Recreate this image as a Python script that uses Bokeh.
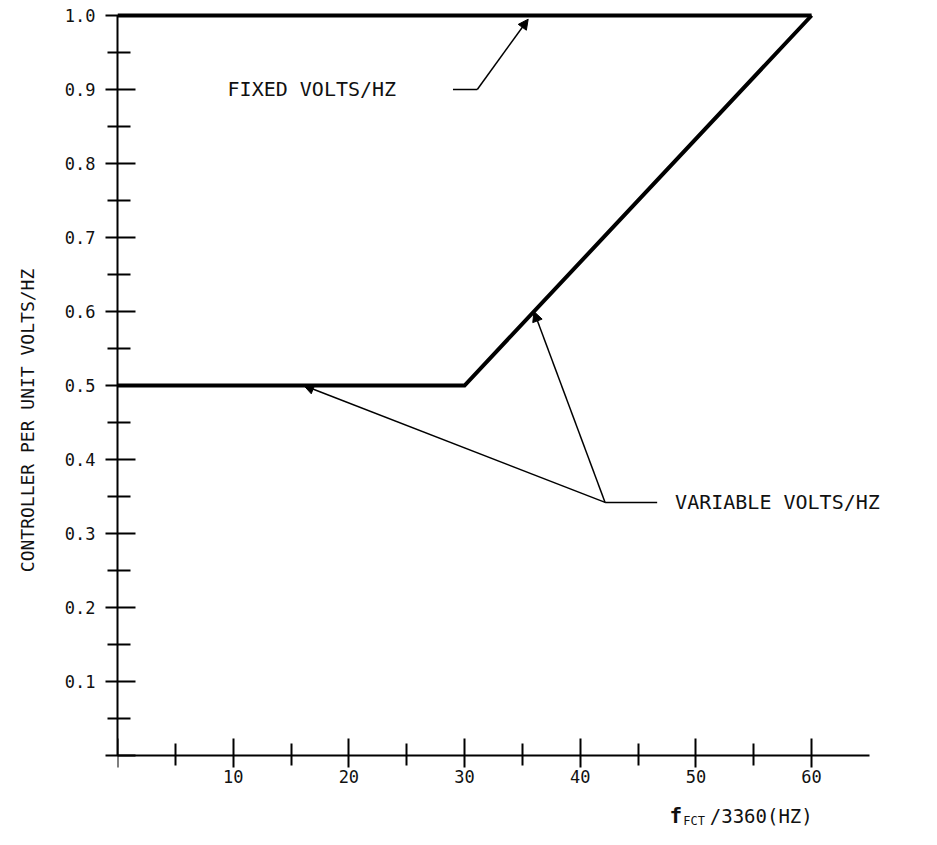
from bokeh.plotting import figure
from bokeh.models import Range1d, FixedTicker, PrintfTickFormatter, Label, Arrow, NormalHead
from bokeh.embed import file_html
from bokeh.resources import INLINE

# ---- data ----
fixed_x = [0, 60]
fixed_y = [1.0, 1.0]
variable_x = [0, 30, 60]
variable_y = [0.5, 0.5, 1.0]

x_major = [0, 10, 20, 30, 40, 50, 60]
x_minor = [5, 15, 25, 35, 45, 55]
y_major = [0.0, 0.1, 0.2, 0.3, 0.4, 0.5, 0.6, 0.7, 0.8, 0.9, 1.0]
y_minor = [0.05, 0.15, 0.25, 0.35, 0.45, 0.55, 0.65, 0.75, 0.85, 0.95]

y_title = "CONTROLLER PER UNIT VOLTS/HZ"
x_title_main = "f"
x_title_sub = "FCT"
x_title_rest = "/3360(HZ)"
fixed_label = "FIXED VOLTS/HZ"
variable_label = "VARIABLE VOLTS/HZ"

# annotation anchor points (data coordinates)
fixed_leader_x = [29.0, 31.1]
fixed_leader_y = [0.9, 0.9]
fixed_arrow_tip = (35.5, 0.995)
var_leader_x = [46.65, 42.15]
var_leader_y = [0.342, 0.342]
var_arrow_tips = [(16.1, 0.5), (36.0, 0.6)]

FONT = "DejaVu Sans Mono"
INK = "#111111"

p = figure(width=921, height=829,
           x_range=Range1d(0, 69.5), y_range=Range1d(-0.1, 1.0054),
           output_backend="svg", toolbar_location=None,
           min_border_left=117, min_border_right=0,
           min_border_top=11, min_border_bottom=0)
p.grid.visible = False
p.outline_line_color = None
p.background_fill_color = "white"
p.border_fill_color = "white"

# curves
p.line(fixed_x, fixed_y, line_width=4, color="black")
p.line(variable_x, variable_y, line_width=4, color="black", line_join="miter")

# x axis (drawn at y = 0)
xa = p.xaxis[0]
xa.fixed_location = 0
xa.bounds = (0, 65)
xa.ticker = FixedTicker(ticks=x_major, minor_ticks=x_minor)
xa.formatter = PrintfTickFormatter(format="%d")
xa.major_label_overrides = {0: ""}
xa.axis_line_width = 2
xa.major_tick_line_width = 2
xa.minor_tick_line_width = 2
xa.major_tick_in = 17
xa.major_tick_out = 12
xa.minor_tick_in = 12
xa.minor_tick_out = 10
xa.major_label_standoff = 3
xa.major_label_text_font = FONT
xa.major_label_text_font_size = "17px"
xa.major_label_text_color = INK

# y axis
ya = p.yaxis[0]
ya.bounds = (0, 1.0)
ya.ticker = FixedTicker(ticks=y_major, minor_ticks=y_minor)
ya.formatter = PrintfTickFormatter(format="%.1f")
ya.major_label_overrides = {0: ""}
ya.axis_line_width = 2
ya.major_tick_line_width = 2
ya.minor_tick_line_width = 2
ya.major_tick_in = 18
ya.major_tick_out = 12
ya.minor_tick_in = 13
ya.minor_tick_out = 10
ya.major_label_standoff = 10
ya.major_label_text_font = FONT
ya.major_label_text_font_size = "17px"
ya.major_label_text_color = INK
ya.axis_label = y_title
ya.axis_label_text_font = FONT
ya.axis_label_text_font_size = "18px"
ya.axis_label_text_font_style = "normal"
ya.axis_label_text_color = INK
ya.axis_label_standoff = 24

# x-axis title built from labels (subscript)
p.add_layout(Label(x=48.8, y=-0.0824, text=x_title_main, text_font=FONT, text_font_size="21px",
                   text_font_style="bold", text_baseline="middle", text_align="right",
                   text_color=INK))
p.add_layout(Label(x=48.9, y=-0.089, text=x_title_sub, text_font=FONT, text_font_size="12px",
                   text_baseline="middle", text_align="left", text_color=INK))
p.add_layout(Label(x=51.2, y=-0.0824, text=x_title_rest, text_font=FONT, text_font_size="19px",
                   text_baseline="middle", text_align="left", text_color=INK))

# annotation texts
p.add_layout(Label(x=16.8, y=0.9, text=fixed_label, text_font=FONT, text_font_size="20px",
                   text_baseline="middle", text_align="center", text_color=INK))
p.add_layout(Label(x=48.2, y=0.342, text=variable_label, text_font=FONT, text_font_size="20px",
                   text_baseline="middle", text_align="left", text_color=INK))

# leaders and arrows
p.line(fixed_leader_x, fixed_leader_y, line_width=1.5, color="black")
p.add_layout(Arrow(end=NormalHead(size=10, fill_color="black", line_color="black"),
                   x_start=fixed_leader_x[-1], y_start=fixed_leader_y[-1],
                   x_end=fixed_arrow_tip[0], y_end=fixed_arrow_tip[1],
                   line_width=1.5, line_color="black"))
p.line(var_leader_x, var_leader_y, line_width=1.5, color="black")
for tx, ty in var_arrow_tips:
    p.add_layout(Arrow(end=NormalHead(size=10, fill_color="black", line_color="black"),
                       x_start=var_leader_x[-1], y_start=var_leader_y[-1],
                       x_end=tx, y_end=ty, line_width=1.5, line_color="black"))

open("out.html", "w").write(file_html(p, INLINE))
